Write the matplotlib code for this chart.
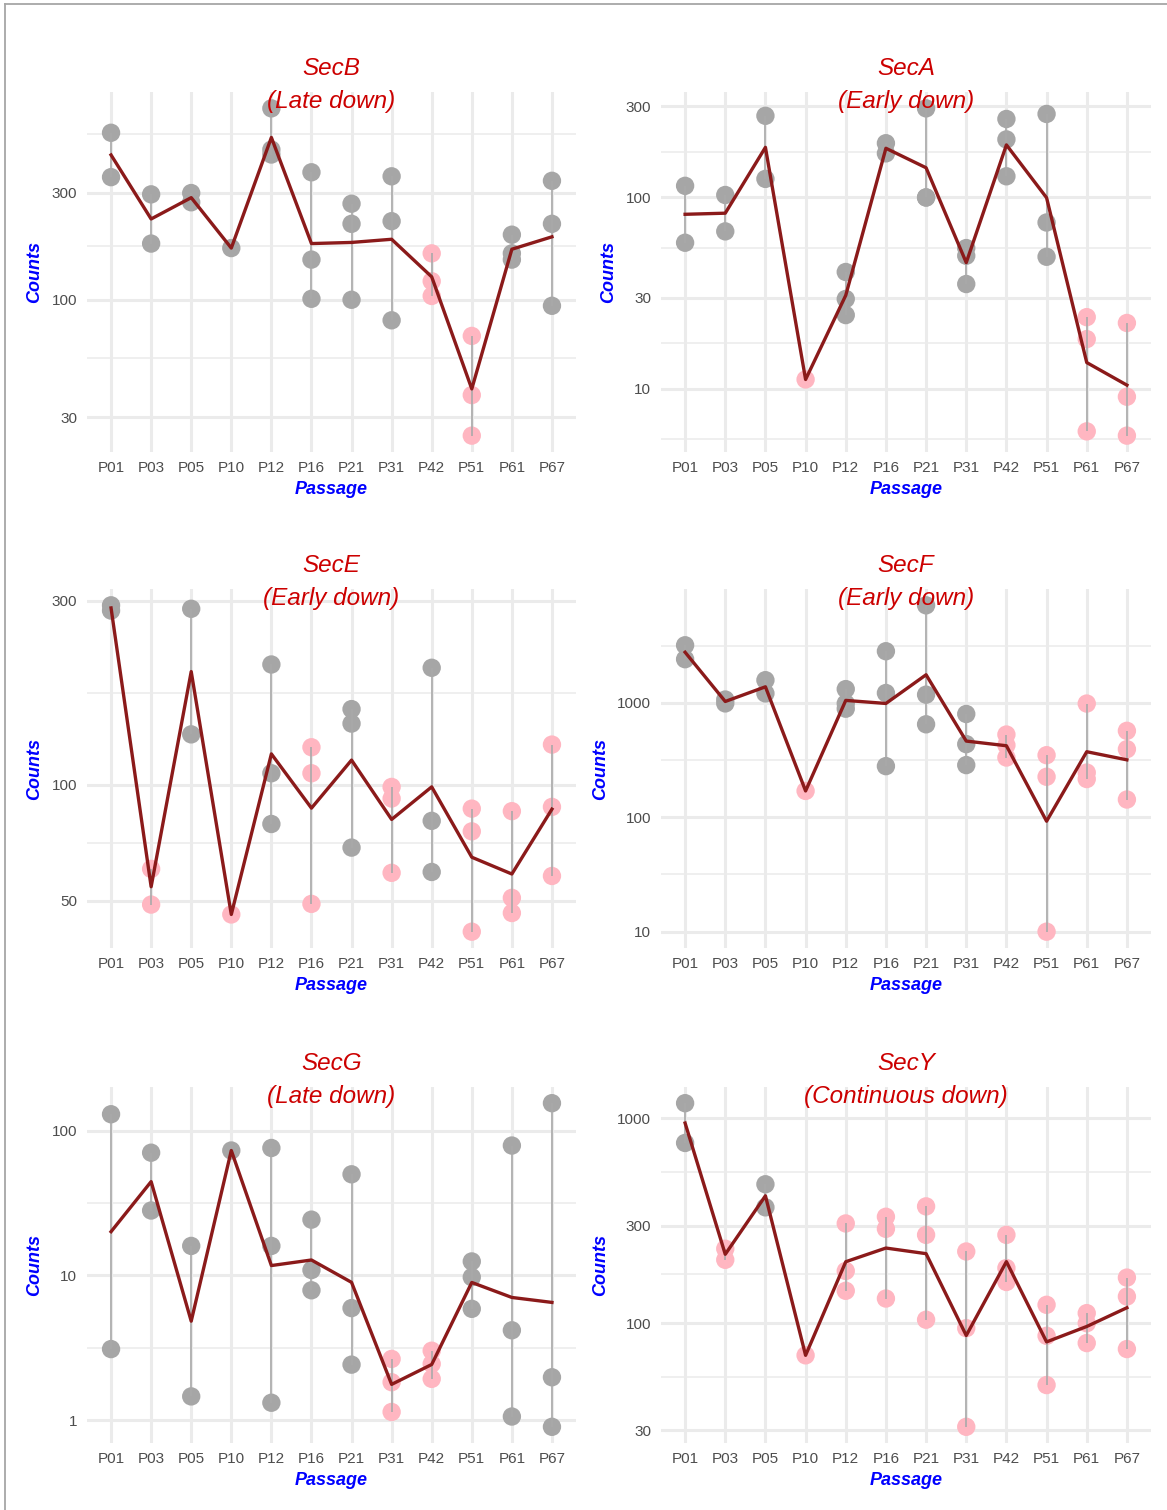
import numpy as np
import matplotlib
matplotlib.use("Agg")
import matplotlib.pyplot as plt
from matplotlib.lines import Line2D
from matplotlib.ticker import FixedLocator, FuncFormatter

plt.rcParams['font.family'] = ['Liberation Sans', 'DejaVu Sans']

passages = ["P01", "P03", "P05", "P10", "P12", "P16", "P21", "P31", "P42", "P51", "P61", "P67"]

# replicate counts per passage
secb = [[555, 352], [295, 178], [299, 272], [170], [713, 467, 444], [370, 151, 101],
        [268, 218, 100], [355, 224, 81], [161, 121, 104], [69, 37.6, 24.8],
        [195, 161, 151], [339, 218, 94]]
seca = [[115, 58], [103, 66.5], [267, 125], [11.2], [40.8, 29.5, 24.3], [192, 170],
        [292, 100, 100], [54.4, 49.6, 35.3], [257, 201, 129], [273, 74, 49],
        [23.7, 18.2, 6.0], [22.1, 9.1, 5.7]]
sece = [[292, 283], [60.4, 48.8], [286, 135], [46.0], [205, 107, 79], [125, 107, 49],
        [157, 144, 68.6], [98.6, 92, 59], [201, 80.5, 59.3], [86.6, 75.6, 41.5],
        [85.3, 50.8, 46.4], [127, 87.5, 57.9]]
secf = [[3190, 2410], [1070, 990], [1580, 1210], [170], [1320, 990, 890],
        [2830, 1220, 280], [7130, 1180, 650], [800, 436, 286], [529, 427, 333],
        [349, 226, 10], [987, 246, 216], [570, 394, 143]]
secg = [[130, 3.1], [70.5, 28.1], [16, 1.46], [73], [76, 16, 1.32], [24.3, 10.9, 7.9],
        [50, 5.95, 2.42], [2.65, 1.83, 1.14], [3.02, 2.45, 1.93], [12.5, 9.74, 5.88],
        [79, 4.18, 1.06], [155, 1.98, 0.9]]
secy = [[1187, 759], [231, 204], [477, 368], [69.7], [307, 180, 144], [331, 289, 132],
        [372, 270, 104], [224, 94.6, 31.2], [270, 186, 159], [123, 86.8, 49.9],
        [112, 100, 80], [167, 135, 74.8]]

# passages drawn in pink
secb_low = ["P42", "P51"]
seca_low = ["P10", "P61", "P67"]
sece_low = ["P03", "P10", "P16", "P31", "P51", "P61", "P67"]
secf_low = ["P10", "P42", "P51", "P61", "P67"]
secg_low = ["P31", "P42"]
secy_low = ["P03", "P10", "P12", "P16", "P21", "P31", "P42", "P51", "P61", "P67"]

genes = ["SecB", "SecA", "SecE", "SecF", "SecG", "SecY"]
trends = ["Late down", "Early down", "Early down", "Early down", "Late down", "Continuous down"]

# log breaks (incl. one beyond each side for minor grid)
secb_breaks = [10, 30, 100, 300, 1000]
seca_breaks = [3, 10, 30, 100, 300, 1000]
sece_breaks = [50, 100, 300]
secf_breaks = [1, 10, 100, 1000, 10000]
secg_breaks = [0.1, 1, 10, 100, 1000]
secy_breaks = [10, 30, 100, 300, 1000, 3000]

all_counts = [secb, seca, sece, secf, secg, secy]
all_low = [secb_low, seca_low, sece_low, secf_low, secg_low, secy_low]
all_breaks = [secb_breaks, seca_breaks, sece_breaks, secf_breaks, secg_breaks, secy_breaks]

W, H = 1167, 1510
fig = plt.figure(figsize=(W / 100, H / 100), dpi=100)

cols = [(87, 576), (661, 1151)]
rows = [(92, 452), (589, 948), (1087, 1443)]

gray_pt = "#A6A6A6"
pink_pt = "#FFB6C1"
grid_c = "#EBEBEB"

for i, gene in enumerate(genes):
    x0, x1 = cols[i % 2]
    y0, y1 = rows[i // 2]
    ax = fig.add_axes([x0 / W, 1 - y1 / H, (x1 - x0) / W, (y1 - y0) / H])
    counts = all_counts[i]
    low = all_low[i]
    br = all_breaks[i]

    for j, vals in enumerate(counts):
        c = pink_pt if passages[j] in low else gray_pt
        ax.scatter([j] * len(vals), vals, s=175, color=c, edgecolors='none', zorder=2)
        ax.plot([j, j], [min(vals), max(vals)], color="#A9A9A9", lw=1.2, zorder=3,
                solid_capstyle='butt')

    gmean = [10 ** np.mean(np.log10(v)) for v in counts]
    ax.plot(range(len(passages)), gmean, color="#8B1A1A", lw=2.4, zorder=4)

    ax.set_yscale('log')
    ax.yaxis.set_major_locator(FixedLocator(br))
    minors = [np.sqrt(a * b) for a, b in zip(br[:-1], br[1:])]
    ax.yaxis.set_minor_locator(FixedLocator(minors))
    ax.yaxis.set_major_formatter(FuncFormatter(lambda v, p: f"{v:g}"))
    ax.yaxis.set_minor_formatter(FuncFormatter(lambda v, p: ""))

    flat = np.log10([v for vals in counts for v in vals])
    lo, hi = flat.min(), flat.max()
    pad = 0.05 * (hi - lo)
    ax.set_ylim(10 ** (lo - pad), 10 ** (hi + pad))
    ax.set_xticks(range(len(passages)))
    ax.set_xticklabels(passages)
    ax.set_xlim(-0.6, len(passages) - 0.4)

    ax.grid(True, which='major', color=grid_c, lw=2.2)
    ax.grid(True, which='minor', axis='y', color=grid_c, lw=1.1)
    ax.set_axisbelow(True)
    for s in ax.spines.values():
        s.set_visible(False)
    ax.tick_params(which='both', length=0, labelsize=11, labelcolor="#4D4D4D")
    ax.tick_params(axis='x', pad=6.5)
    ax.tick_params(axis='y', pad=7)

    ax.set_xlabel("Passage", color="blue", fontsize=13, fontweight='bold',
                  style='italic', labelpad=4.5)
    ax.set_ylabel("Counts", color="blue", fontsize=13, fontweight='bold',
                  style='italic', labelpad=6)

    ax.annotate(gene, xy=(0.5, 1), xycoords='axes fraction', xytext=(0, 17),
                textcoords='offset points', ha='center', va='center', fontsize=17.5,
                style='italic', color="#CC0000", zorder=10)
    ax.annotate(f"({trends[i]})", xy=(0.5, 1), xycoords='axes fraction', xytext=(0, -7),
                textcoords='offset points', ha='center', va='center', fontsize=17.5,
                style='italic', color="#CC0000", zorder=10)

# outer frame (top and left edges)
fig.add_artist(Line2D([4.5 / W, 1], [1 - 3.5 / H, 1 - 3.5 / H], color="#A6A6A6", lw=1.3,
                      transform=fig.transFigure))
fig.add_artist(Line2D([4.5 / W, 4.5 / W], [0, 1 - 3.5 / H], color="#A6A6A6", lw=1.3,
                      transform=fig.transFigure))

fig.savefig("out.png", dpi=100)
